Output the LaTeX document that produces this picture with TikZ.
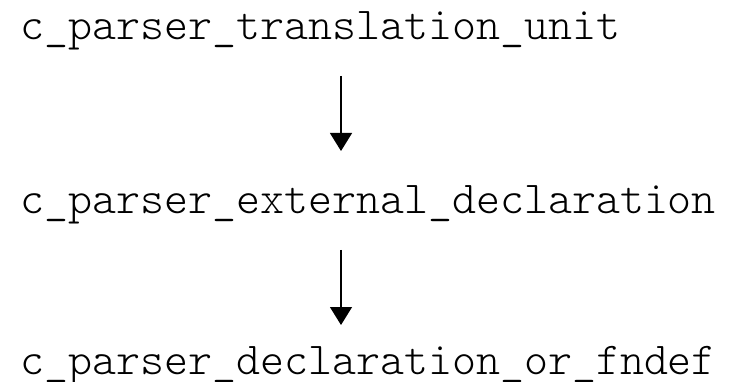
\documentclass[tikz,border=0pt]{standalone}
\usepackage{fontspec}
\usetikzlibrary{arrows.meta}
\begin{document}
\begin{tikzpicture}[x=1pt, y=-1pt,
  code/.style={font={\ttfamily\fontseries{l}\fontsize{45.7pt}{50pt}\selectfont},
               inner sep=0pt, anchor=base west},
  arr/.style={line width=1.3pt, -{Triangle[width=22pt,length=18pt]}}]
\useasboundingbox (0,0) rectangle (734,382);

% call chain, one function per line
\node[code] (t1) at (20,40)  {c\_parser\_translation\_unit};
\node[code] (t2) at (20,214) {c\_parser\_external\_declaration};
\node[code] (t3) at (20,374) {c\_parser\_declaration\_or\_fndef};

% arrow ends
\coordinate (a1s) at (341,76);
\coordinate (a1e) at (341,151);
\coordinate (a2s) at (341,250);
\coordinate (a2e) at (341,325);

\draw[arr] (a1s) -- (a1e);
\draw[arr] (a2s) -- (a2e);
\end{tikzpicture}
\end{document}
